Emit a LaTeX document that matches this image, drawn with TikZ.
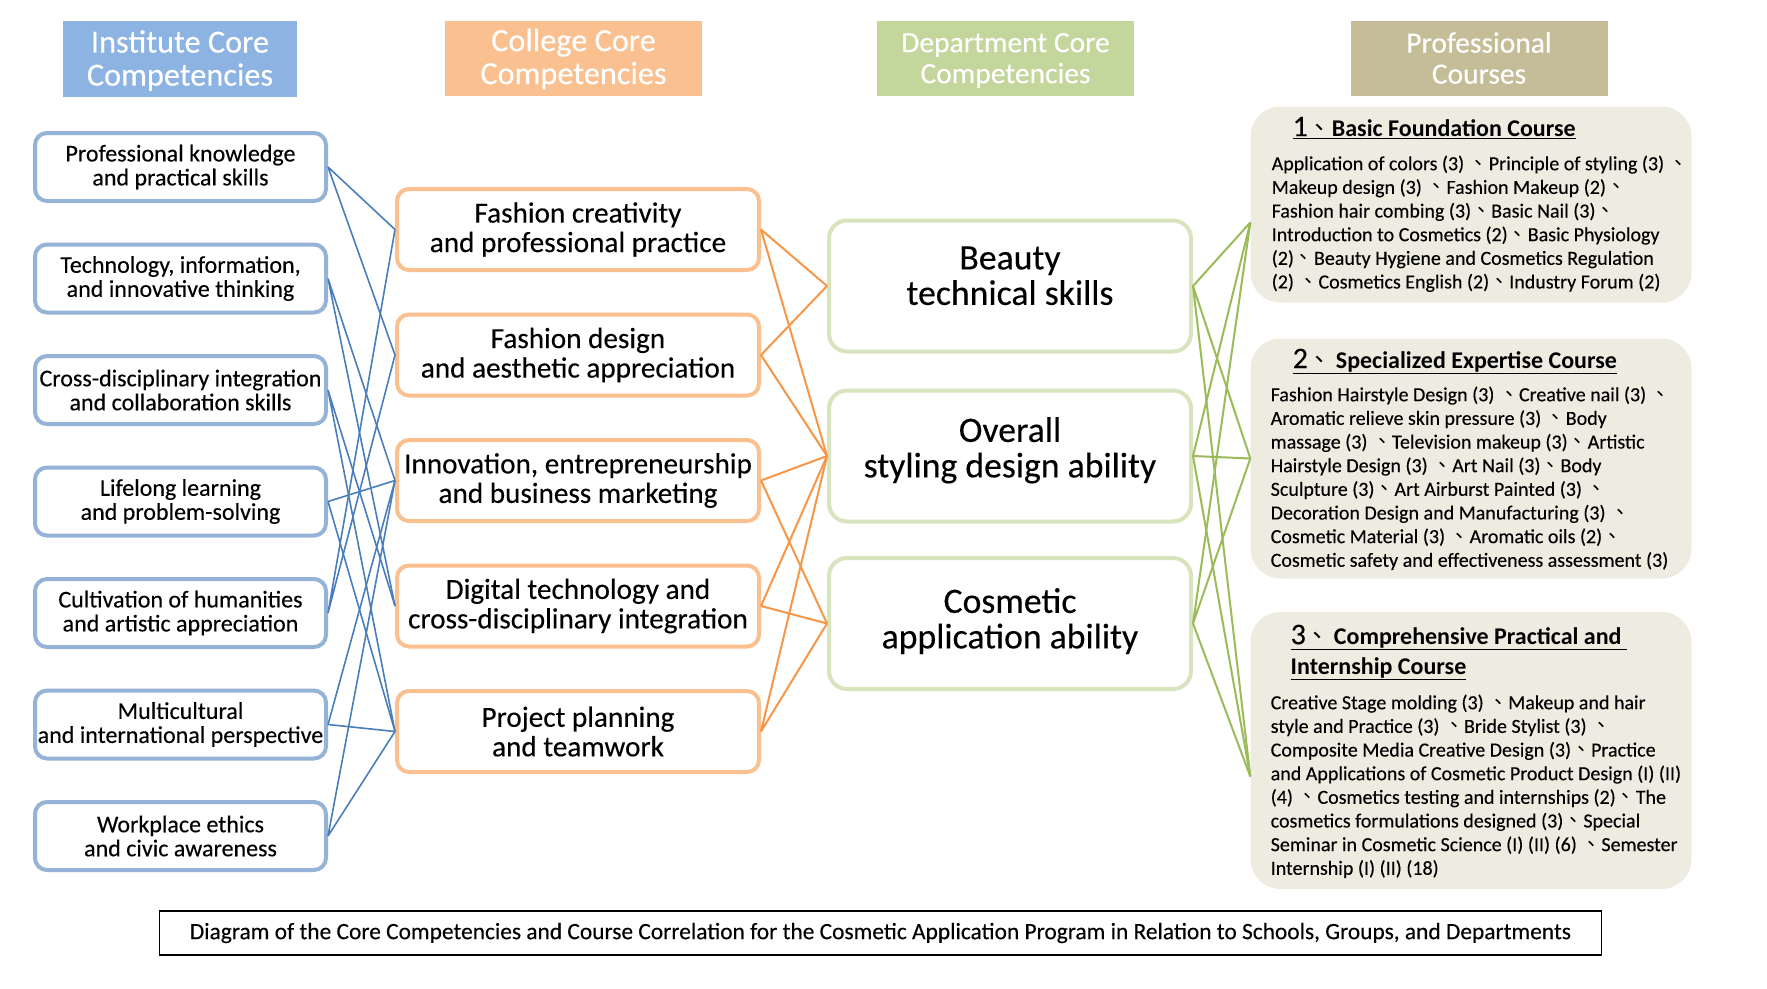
\documentclass[tikz,border=0pt]{standalone}
\usepackage{fontspec}
\setmainfont{Carlito}[UprightFeatures={FakeBold=0.25}]
\newfontfamily\cjk{Noto Sans CJK TC}
\newcommand\dun{{\cjk 、}}
\newcommand\bignum{\fontsize{30}{30}\selectfont}
\newcommand\lift[2]{\raisebox{#1}[\height][\depth]{\begin{tabular}{@{}c@{}}#2\end{tabular}}}
\usepackage{xcolor}
\usepackage{tikz}
\definecolor{instfill}{HTML}{8DB3E2}
\definecolor{collfill}{HTML}{FAC08F}
\definecolor{deptfill}{HTML}{C3D69B}
\definecolor{proffill}{HTML}{C4BD97}
\definecolor{instline}{HTML}{95B3D7}
\definecolor{deptline}{HTML}{D7E4BD}
\definecolor{courseback}{HTML}{EEECE1}
\definecolor{blueln}{HTML}{4A7EBB}
\definecolor{orangeln}{HTML}{F79646}
\definecolor{greenln}{HTML}{9BBB59}
\tikzset{
  head/.style={minimum width=257, minimum height=75, inner sep=0, text=white, align=center, font=\fontsize{32.3}{33}\selectfont},
  instbox/.style={draw=instline, line width=4, rounded corners=12, minimum width=291, minimum height=68, inner sep=0, align=center, font=\fontsize{24}{24}\selectfont},
  collbox/.style={draw=collfill, line width=4, rounded corners=12, minimum width=362, minimum height=81, inner sep=0, align=center, font=\fontsize{29.2}{29.5}\selectfont},
  deptbox/.style={draw=deptline, line width=4, rounded corners=18, minimum width=362, minimum height=131, inner sep=0, align=center, font=\fontsize{35.7}{35.5}\selectfont},
  coursebox/.style={fill=courseback, rounded corners=30, minimum width=441, inner sep=0},
  coursehead/.style={anchor=north west, inner sep=0, align=left, font=\fontsize{24}{30}\selectfont},
  coursetext/.style={anchor=north west, inner sep=0, align=left, font=\fontsize{20}{23.65}\selectfont},
  bluelink/.style={draw=blueln, line width=1.6},
  orangelink/.style={draw=orangeln, line width=2},
  greenlink/.style={draw=greenln, line width=2}
}
\begin{document}
\begin{tikzpicture}[x=1pt,y=-1pt]
  \fill[white] (0,0) rectangle (1767,988);
  \useasboundingbox (0,0) rectangle (1767,988);

  \node[head, fill=instfill, minimum width=234, minimum height=76] (HI) at (180,59) {\lift{-3.5pt}{Institute Core\\Competencies}};
  \node[head, fill=collfill] (HC) at (573.5,58) {\lift{-3pt}{College Core\\Competencies}};
  \node[head, fill=deptfill, font=\fontsize{29.5}{31}\selectfont] (HD) at (1005.5,58) {\lift{-3.5pt}{Department Core\\Competencies}};
  \node[head, fill=proffill, font=\fontsize{29.5}{31}\selectfont] (HP) at (1479,58) {Professional\\Courses};

  \node[instbox] (L1) at (180.5,167) {Professional knowledge\\and practical skills};
  \node[instbox] (L2) at (180.5,278.5) {Technology, information,\\and innovative thinking};
  \node[instbox] (L3) at (180.5,390) {Cross-disciplinary integration\\and collaboration skills};
  \node[instbox] (L4) at (180.5,501.5) {Lifelong learning\\and problem-solving};
  \node[instbox] (L5) at (180.5,613) {Cultivation of humanities\\and artistic appreciation};
  \node[instbox] (L6) at (180.5,724.5) {Multicultural\\and international perspective};
  \node[instbox] (L7) at (180.5,836) {Workplace ethics\\and civic awareness};

  \node[collbox] (C1) at (578,229.5) {Fashion creativity\\and professional practice};
  \node[collbox] (C2) at (578,355) {Fashion design\\and aesthetic appreciation};
  \node[collbox] (C3) at (578,480.5) {Innovation, entrepreneurship\\and business marketing};
  \node[collbox] (C4) at (578,606) {Digital technology and\\cross-disciplinary integration};
  \node[collbox] (C5) at (578,731.5) {Project planning\\and teamwork};

  \node[deptbox] (D1) at (1010,286) {\lift{6pt}{Beauty\\technical skills}};
  \node[deptbox] (D2) at (1010,456) {\lift{3.5pt}{Overall\\styling design ability}};
  \node[deptbox] (D3) at (1010,623.5) {\lift{0pt}{Cosmetic\\application ability}};

  \node[coursebox, minimum height=196] (P1) at (1471,204.5) {};
  \node[coursebox, minimum height=240] (P2) at (1471,458.5) {};
  \node[coursebox, minimum height=277] (P3) at (1471,750.5) {};
  \coordinate (P1in) at ([yshift=-18pt]P1.west);
  \coordinate (P2in) at (P2.west);
  \coordinate (P3in) at ([yshift=-26pt]P3.west);

  \node[coursehead] (H1) at (1292.5,114) {\rule{0pt}{22pt}\underline{{\bignum 1}\dun\textbf{Basic Foundation Course}}};
  \node[coursetext] (B1) at (1271.5,154) {\rule{0pt}{16pt}Application of colors (3) \dun Principle of styling (3) \dun\\
    Makeup design (3) \dun Fashion Makeup (2)\dun\\
    Fashion hair combing (3)\dun Basic Nail (3)\dun\\
    Introduction to Cosmetics (2)\dun Basic Physiology\\
    (2)\dun Beauty Hygiene and Cosmetics Regulation\\
    (2) \dun Cosmetics English (2)\dun Industry Forum (2)};

  \node[coursehead] (H2) at (1292.5,346) {\rule{0pt}{22pt}\underline{{\bignum 2}\dun\hspace{4pt}\textbf{Specialized Expertise Course}}};
  \node[coursetext] (B2) at (1270.5,385) {\rule{0pt}{16pt}Fashion Hairstyle Design (3) \dun Creative nail (3) \dun\\
    Aromatic relieve skin pressure (3) \dun Body\\
    massage (3) \dun Television makeup (3)\dun Artistic\\
    Hairstyle Design (3) \dun Art Nail (3)\dun Body\\
    Sculpture (3)\dun Art Airburst Painted (3) \dun\\
    Decoration Design and Manufacturing (3) \dun\\
    Cosmetic Material (3) \dun Aromatic oils (2)\dun\\
    Cosmetic safety and effectiveness assessment (3)};

  \node[coursehead] (H3) at (1290.5,622) {\rule{0pt}{22pt}\underline{{\bignum 3}\dun\hspace{4pt}\textbf{Comprehensive Practical and}\ }\\
    \underline{\textbf{Internship Course}}};
  \node[coursetext] (B3) at (1270.5,693) {\rule{0pt}{16pt}Creative Stage molding (3) \dun Makeup and hair\\
    style and Practice (3) \dun Bride Stylist (3) \dun\\
    Composite Media Creative Design (3)\dun Practice\\
    and Applications of Cosmetic Product Design (I) (II)\\
    (4) \dun Cosmetics testing and internships (2)\dun The\\
    cosmetics formulations designed (3)\dun Special\\
    Seminar in Cosmetic Science (I) (II) (6) \dun Semester\\
    Internship (I) (II) (18)};

  \node[draw=black, line width=1.5, minimum width=1442, minimum height=44, inner sep=0, font=\fontsize{23.4}{24}\selectfont] (cap) at (880.5,933) {Diagram of the Core Competencies and Course Correlation for the Cosmetic Application Program in Relation to Schools, Groups, and Departments};

  \draw[bluelink] (L1.east)--(C1.west) (L1.east)--(C2.west);
  \draw[bluelink] (L2.east)--(C3.west) (L2.east)--(C4.west);
  \draw[bluelink] (L3.east)--(C4.west) (L3.east)--(C5.west);
  \draw[bluelink] (L4.east)--(C3.west) (L4.east)--(C5.west);
  \draw[bluelink] (L5.east)--(C1.west) (L5.east)--(C2.west);
  \draw[bluelink] (L6.east)--(C3.west) (L6.east)--(C5.west);
  \draw[bluelink] (L7.east)--(C3.west) (L7.east)--(C5.west);

  \draw[orangelink] (C1.east)--(D1.west) (C1.east)--(D2.west);
  \draw[orangelink] (C2.east)--(D1.west) (C2.east)--(D2.west);
  \draw[orangelink] (C3.east)--(D2.west) (C3.east)--(D3.west);
  \draw[orangelink] (C4.east)--(D2.west) (C4.east)--(D3.west);
  \draw[orangelink] (C5.east)--(D2.west) (C5.east)--(D3.west);

  \draw[greenlink] (D1.east)--(P1in) (D1.east)--(P2in) (D1.east)--(P3in);
  \draw[greenlink] (D2.east)--(P1in) (D2.east)--(P2in) (D2.east)--(P3in);
  \draw[greenlink] (D3.east)--(P1in) (D3.east)--(P2in) (D3.east)--(P3in);
\end{tikzpicture}
\end{document}
